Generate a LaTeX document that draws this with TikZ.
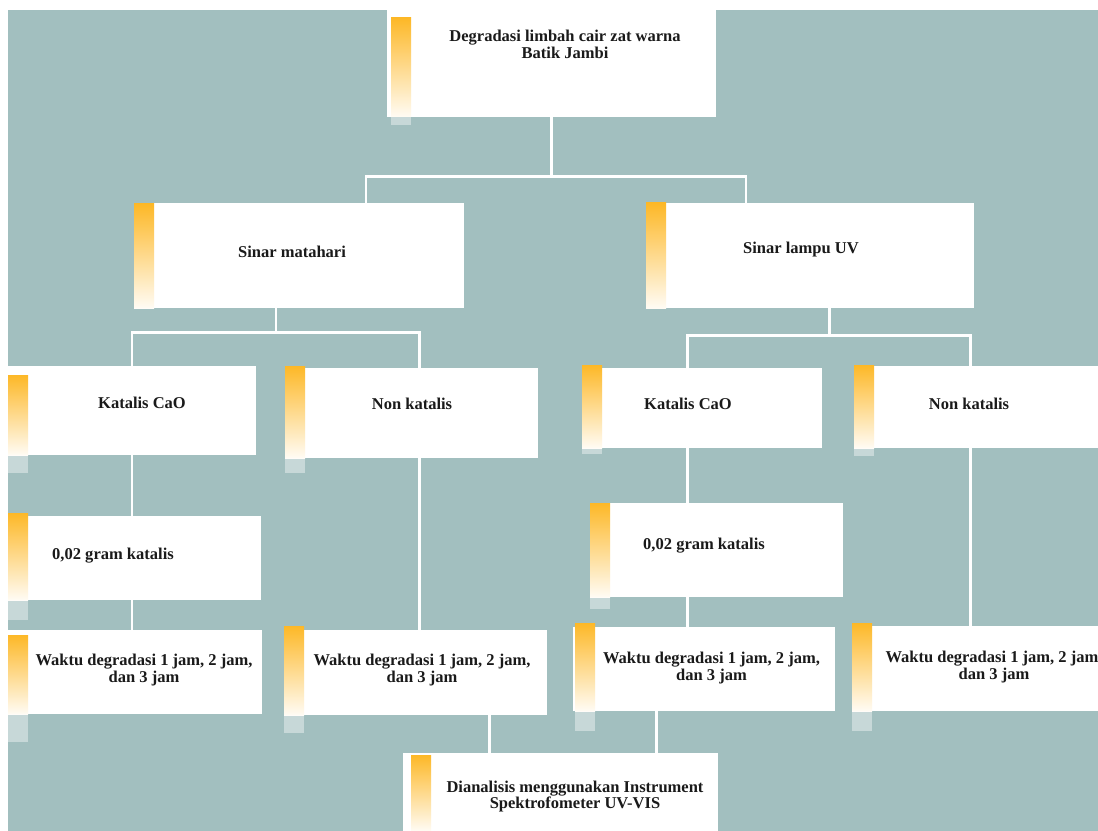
\documentclass[tikz,border=0pt]{standalone}
\usepackage{fontspec}
\setmainfont{Liberation Serif}
\usetikzlibrary{positioning, calc, fit}
\usepackage{xcolor}
\definecolor{bgteal}{HTML}{A2BFBF}
\definecolor{barorange}{HTML}{FDB827}
\definecolor{txtdark}{HTML}{1A1A1A}

\tikzset{
  panel/.style={rectangle, fill=white, draw=none, inner sep=0pt},
  lbl/.style={align=center, inner sep=0pt, text=txtdark,
              font=\bfseries\fontsize{9.4}{9.45}\selectfont},
  link/.style={draw=white, line width=1.6pt},
}
% orange strip: x, top, bottom of box, bottom of strip
\newcommand{\ribbon}[4]{%
  \shade[top color=barorange, bottom color=barorange!5] (#1,#2) rectangle ({#1+20},#3);
  \fill[white, opacity=.4] (#1,#3) rectangle ({#1+20},#4);}

\begin{document}
\begin{tikzpicture}[x=0.02cm, y=-0.02cm]
  \useasboundingbox (0,0) rectangle (1098,831);
  \fill[white] (0,0) rectangle (1098,831);
  \fill[bgteal] (8,10) rectangle (1098,831);

  % boxes
  \node[panel, fit={(387,10) (716,117)}] (top) {};
  \node[panel, fit={(137,203) (464,308)}] (smat) {};
  \node[panel, fit={(646,203) (974,308)}] (suv) {};
  \node[panel, fit={(8,366) (256,455)}] (kal1) {};
  \node[panel, fit={(285,368) (538,458)}] (non1) {};
  \node[panel, fit={(586,368) (822,448)}] (kal2) {};
  \node[panel, fit={(858,366) (1098,448)}] (non2) {};
  \node[panel, fit={(8,516) (261,600)}] (gr1) {};
  \node[panel, fit={(590,503) (843,597)}] (gr2) {};
  \node[panel, fit={(8,630) (262,714)}] (wk1) {};
  \node[panel, fit={(285,630) (547,715)}] (wk2) {};
  \node[panel, fit={(573,627) (835,711)}] (wk3) {};
  \node[panel, fit={(856,626) (1098,711)}] (wk4) {};
  \node[panel, fit={(403,753) (718,831)}] (dia) {};

  % strips
  \ribbon{391}{18}{117}{125}
  \ribbon{134}{204}{308}{309}
  \ribbon{646}{203}{308}{308}
  \ribbon{8}{375}{455}{473}
  \ribbon{285}{366}{458}{473}
  \ribbon{582}{365}{448}{454}
  \ribbon{854}{365}{448}{456}
  \ribbon{8}{513}{600}{620}
  \ribbon{590}{503}{597}{609}
  \ribbon{8}{635}{714}{742}
  \ribbon{284}{626}{715}{733}
  \ribbon{575}{623}{711}{731}
  \ribbon{852}{623}{711}{731}
  \ribbon{411}{755}{831}{831}

  % connectors
  \coordinate (j1) at ($(top.south)+(0,59)$);
  \draw[link] (top.south) -- (j1);
  \draw[link] (j1) -| ($(smat.north west)!0.70!(smat.north east)$);
  \draw[link] (j1) -| ($(suv.north west)!0.305!(suv.north east)$);
  \draw[link] ($(smat.south west)!0.425!(smat.south east)$) -- ++(0,24) coordinate (j2);
  \draw[link] (j2) -| (kal1.north);
  \draw[link] (j2) -| ($(non1.north west)!0.53!(non1.north east)$);
  \draw[link] ($(suv.south west)!0.56!(suv.south east)$) -- ++(0,27) coordinate (j3);
  \draw[link] (j3) -| ($(kal2.north west)!0.43!(kal2.north east)$);
  \draw[link] (j3) -| ($(non2.north west)!0.47!(non2.north east)$);
  \draw[link] (kal1.south) -- (kal1.south |- gr1.north);
  \draw[link] (kal1.south |- gr1.south) -- (kal1.south |- wk1.north);
  \draw[link] ($(non1.south west)!0.53!(non1.south east)$) coordinate (n1) -- (n1 |- wk2.north);
  \draw[link] ($(kal2.south west)!0.43!(kal2.south east)$) coordinate (k2) -- (k2 |- gr2.north);
  \draw[link] (k2 |- gr2.south) -- (k2 |- wk3.north);
  \draw[link] ($(non2.south west)!0.47!(non2.south east)$) coordinate (n2) -- (n2 |- wk4.north);
  \draw[link] ($(wk2.south west)!0.78!(wk2.south east)$) coordinate (w2) -- (w2 |- dia.north);
  \draw[link] ($(wk3.south west)!0.32!(wk3.south east)$) coordinate (w3) -- (w3 |- dia.north);

  % texts
  \node[lbl] (topT) at (565,44.5) {Degradasi limbah cair zat warna\\Batik Jambi};
  \node[lbl] (smatT) at (292,252) {Sinar matahari};
  \node[lbl] (suvT) at (801,249.5) {Sinar lampu UV};
  \node[lbl] (kal1T) at (142,402.7) {Katalis CaO};
  \node[lbl] (non1T) at (412,403.7) {Non katalis};
  \node[lbl] (kal2T) at (688,403.7) {Katalis CaO};
  \node[lbl] (non2T) at (969,403.7) {Non katalis};
  \node[lbl] (gr1T) at (113,556) {0,02 gram katalis};
  \node[lbl] (gr2T) at (704,546) {0,02 gram katalis};
  \node[lbl] (wk1T) at (144,669.8) {Waktu degradasi 1 jam, 2 jam,\\dan 3 jam};
  \node[lbl] (wk2T) at (422,670) {Waktu degradasi 1 jam, 2 jam,\\dan 3 jam};
  \node[lbl] (wk3T) at (711.5,668) {Waktu degradasi 1 jam, 2 jam,\\dan 3 jam};
  \node[lbl] (wk4T) at (994,667) {Waktu degradasi 1 jam, 2 jam,\\dan 3 jam};
  \node[lbl] (diaT) at (575,796.5) {Dianalisis menggunakan Instrument\\Spektrofometer UV-VIS};
\end{tikzpicture}
\end{document}
